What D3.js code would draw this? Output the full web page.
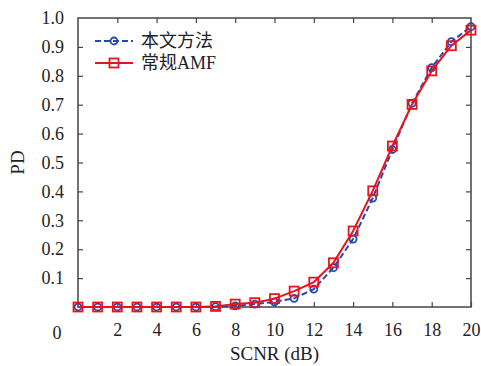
<!DOCTYPE html>
<html>
<head>
<meta charset="utf-8">
<script src="https://cdn.jsdelivr.net/npm/d3@7"></script>
<style>
  body { margin: 0; background: #fff; }
  text { font-family: "Liberation Serif", "DejaVu Serif", serif; fill: #222; }
</style>
</head>
<body>
<div id="wrapper"></div>
<script>
// data
const snr = [0,1,2,3,4,5,6,7,8,9,10,11,12,13,14,15,16,17,18,19,20]
const pdProposed = [0,0,0,0,0,0,0,0.001,0.004,0.01,0.018,0.03,0.062,0.136,0.235,0.377,0.545,0.705,0.828,0.918,0.97]
const pdAMF = [0,0,0,0,0,0,0,0.002,0.01,0.015,0.029,0.055,0.086,0.153,0.263,0.402,0.557,0.701,0.817,0.904,0.958]
const xTicks = [2,4,6,8,10,12,14,16,18,20]
const yTicks = [0.1,0.2,0.3,0.4,0.5,0.6,0.7,0.8,0.9,1.0]
const legendNames = ["本文方法", "常规AMF"]

let dimensions = {
    width: 481,
    height: 366,
    margin: { top: 18, right: 10, bottom: 59, left: 78 },
}
dimensions.boundedWidth = dimensions.width - dimensions.margin.left - dimensions.margin.right
dimensions.boundedHeight = dimensions.height - dimensions.margin.top - dimensions.margin.bottom

const svg = d3.select("#wrapper").append("svg")
    .attr("width", dimensions.width)
    .attr("height", dimensions.height)

const bounds = svg.append("g")
    .attr("transform", `translate(${dimensions.margin.left},${dimensions.margin.top})`)

const xScale = d3.scaleLinear().domain([0, 20]).range([0, dimensions.boundedWidth])
const yScale = d3.scaleLinear().domain([0, 1]).range([dimensions.boundedHeight, 0])

const axisColor = "#444"
const fontSize = "18px"
const w = dimensions.boundedWidth, h = dimensions.boundedHeight

// frame with inward ticks
const bottomAxis = bounds.append("g").attr("transform", `translate(0,${h})`)
    .call(d3.axisBottom(xScale).tickValues(xTicks).tickSizeInner(-5).tickSizeOuter(0).tickPadding(16).tickFormat(d3.format("d")))
const topAxis = bounds.append("g")
    .call(d3.axisTop(xScale).tickValues(xTicks.slice(0, -1)).tickSizeInner(-5).tickSizeOuter(0).tickFormat(""))
const leftAxis = bounds.append("g")
    .call(d3.axisLeft(yScale).tickValues(yTicks.slice(0, -1)).tickSizeInner(-5).tickSizeOuter(0).tickPadding(14).tickFormat(d3.format(".1f")))
const rightAxis = bounds.append("g").attr("transform", `translate(${w},0)`)
    .call(d3.axisRight(yScale).tickValues(yTicks.slice(0, -1)).tickSizeInner(-5).tickSizeOuter(0).tickFormat(""))

// 1.0 label sits at the top edge
leftAxis.append("text")
    .attr("x", -14).attr("y", yScale(1)).attr("dy", "0.32em")
    .attr("text-anchor", "end")
    .text("1.0")

;[bottomAxis, topAxis, leftAxis, rightAxis].forEach(a => {
    a.selectAll(".domain").attr("stroke", axisColor).attr("stroke-width", 1.5)
    a.selectAll(".tick line").attr("stroke", axisColor).attr("stroke-width", 1.2)
    a.selectAll("text").style("font-size", fontSize).style("font-family", "Liberation Serif, serif").style("fill", "#222")
})
bounds.selectAll(".domain").attr("d", null)
bounds.append("rect").attr("width", w).attr("height", h)
    .attr("fill", "none").attr("stroke", axisColor).attr("stroke-width", 1.5)

// origin label set off to the lower left
bounds.append("text")
    .attr("x", -21).attr("y", h + 26)
    .attr("text-anchor", "middle").attr("dy", "0.32em")
    .style("font-size", fontSize)
    .text("0")

// axis titles
svg.append("text")
    .attr("x", dimensions.margin.left + xScale(10)).attr("y", 360)
    .attr("text-anchor", "middle").style("font-size", "19px")
    .text("SCNR (dB)")
svg.append("text")
    .attr("transform", `translate(24,${dimensions.margin.top + h / 2}) rotate(-90)`)
    .attr("text-anchor", "middle").style("font-size", "19px")
    .text("PD")

const blue = "#2548ad"
const red = "#e8141c"

const lineGen = vals => d3.line()
    .x((d, i) => xScale(snr[i]))
    .y(d => yScale(d))(vals)

// proposed method: dashed blue with circles
bounds.append("path").attr("d", lineGen(pdProposed))
    .attr("fill", "none").attr("stroke", blue).attr("stroke-width", 2)
    .attr("stroke-dasharray", "6,3")
bounds.append("g").selectAll("circle").data(pdProposed).join("circle")
    .attr("cx", (d, i) => xScale(snr[i])).attr("cy", d => yScale(d))
    .attr("r", 3.5).attr("fill", "none").attr("stroke", blue).attr("stroke-width", 1.8)

// AMF: solid red with squares
bounds.append("path").attr("d", lineGen(pdAMF))
    .attr("fill", "none").attr("stroke", red).attr("stroke-width", 2)
bounds.append("g").selectAll("rect").data(pdAMF).join("rect")
    .attr("x", (d, i) => xScale(snr[i]) - 4.5).attr("y", d => yScale(d) - 4.5)
    .attr("width", 9).attr("height", 9)
    .attr("fill", "none").attr("stroke", red).attr("stroke-width", 1.8)

// legend
const legend = bounds.append("g").attr("transform", "translate(17,23)")
legendNames.forEach((name, i) => {
    const g = legend.append("g").attr("transform", `translate(0,${i * 22})`)
    g.append("line").attr("x1", 0).attr("x2", 38)
        .attr("stroke", i === 0 ? blue : red).attr("stroke-width", 2)
        .attr("stroke-dasharray", i === 0 ? "6,3" : null)
    if (i === 0) {
        g.append("circle").attr("cx", 19).attr("r", 3.5)
            .attr("fill", "none").attr("stroke", blue).attr("stroke-width", 1.8)
    } else {
        g.append("rect").attr("x", 14.5).attr("y", -4.5).attr("width", 9).attr("height", 9)
            .attr("fill", "none").attr("stroke", red).attr("stroke-width", 1.8)
    }
    g.append("text").attr("x", 46).attr("dy", "0.35em")
        .style("font-size", "18px")
        .style("font-family", "'Liberation Serif', 'Noto Sans CJK SC', serif")
        .text(name)
})
</script>
</body>
</html>
